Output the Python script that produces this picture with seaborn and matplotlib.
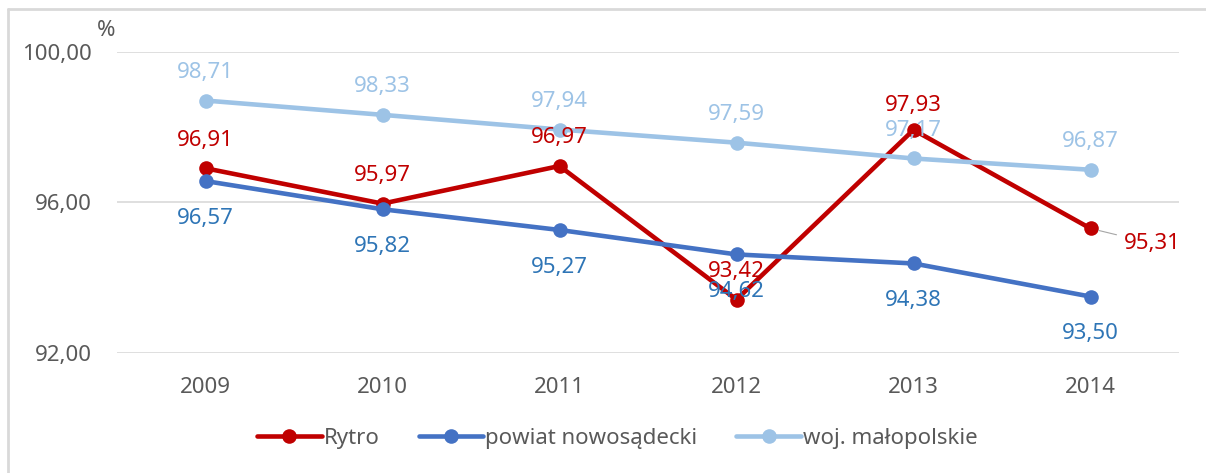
import matplotlib
matplotlib.use("Agg")
import matplotlib.pyplot as plt
import matplotlib.ticker as mticker
from matplotlib.lines import Line2D
import seaborn as sns
import pandas as pd

years = ["2009", "2010", "2011", "2012", "2013", "2014"]
series_names = ["Rytro", "powiat nowosądecki", "woj. małopolskie"]
rytro = [96.91, 95.97, 96.97, 93.42, 97.93, 95.31]
powiat = [96.57, 95.82, 95.27, 94.62, 94.38, 93.50]
woj = [98.71, 98.33, 97.94, 97.59, 97.17, 96.87]
yticks = [92, 96, 100]

line_colors = ["#C00000", "#4472C4", "#9DC3E6"]
label_colors = ["#C00000", "#2E75B6", "#9DC3E6"]

sns.set_theme(style="white")
plt.rcParams["font.family"] = ["Noto Sans", "DejaVu Sans"]

FS = 16

df = pd.DataFrame({
    "rok": years * 3,
    "wartosc": rytro + powiat + woj,
    "seria": [series_names[0]] * 6 + [series_names[1]] * 6 + [series_names[2]] * 6,
})

fig = plt.figure(figsize=(12.06, 4.73), dpi=100)
ax = fig.add_axes([117 / 1206, 1 - 353 / 473, (1179 - 117) / 1206, (353 - 52) / 473])

sns.lineplot(data=df, x="rok", y="wartosc", hue="seria", hue_order=series_names,
             palette=line_colors, marker="o", markersize=10.5, markeredgewidth=0,
             linewidth=3.3, sort=False, ax=ax, legend=True)

ax.set_xlim(-0.5, 5.5)
ax.set_ylim(92, 100)
ax.set_yticks(yticks)
ax.yaxis.set_major_formatter(mticker.FuncFormatter(lambda v, p: f"{v:.2f}".replace(".", ",")))
ax.grid(axis="y", color="#D9D9D9", linewidth=1.2)
ax.grid(axis="x", visible=False)
ax.set_axisbelow(True)
for s in ax.spines.values():
    s.set_visible(False)
ax.tick_params(axis="both", length=0, labelsize=FS, labelcolor="#595959")
ax.tick_params(axis="x", pad=17)
ax.tick_params(axis="y", pad=18)
ax.set_xlabel("")
ax.set_ylabel("")

# data labels
def lab(i, v, color, dy, **kw):
    ax.annotate(f"{v:.2f}".replace(".", ","), (i, v), xytext=(0, dy), textcoords="offset points",
                ha="center", va="center_baseline", fontsize=FS, color=color, **kw)

for i, v in enumerate(woj):
    lab(i, v, label_colors[2], 22)
for i, v in enumerate(powiat):
    lab(i, v, label_colors[1], -25)
for i, v in enumerate(rytro):
    if i == 5:
        ax.annotate(f"{v:.2f}".replace(".", ","), (i, v), xytext=(24, -9), textcoords="offset points",
                    ha="left", va="center_baseline", fontsize=FS, color=label_colors[0],
                    arrowprops=dict(arrowstyle="-", color="#A6A6A6", lw=0.8,
                                    shrinkA=3, shrinkB=6))
    else:
        lab(i, v, label_colors[0], 22 if i != 4 else 19)

# legend
handles, labels = ax.get_legend_handles_labels()
ax.legend(handles, labels, loc="center", bbox_to_anchor=(0.512, 0.073),
          bbox_transform=fig.transFigure, ncol=3, frameon=False, fontsize=FS,
          handlelength=2.9, handletextpad=0.1, columnspacing=1.75, labelcolor="#595959")

fig.text(106 / 1206, 1 - 31 / 473, "%", ha="center", va="center", fontsize=FS, color="#595959")

# chart frame
fig.add_artist(Line2D([8 / 1206, 1.0], [1 - 9 / 473, 1 - 9 / 473], transform=fig.transFigure,
                      color="#D9D9D9", linewidth=2))
fig.add_artist(Line2D([8 / 1206, 8 / 1206], [0, 1 - 9 / 473], transform=fig.transFigure,
                      color="#D9D9D9", linewidth=2))

fig.savefig("out.png", dpi=100)
